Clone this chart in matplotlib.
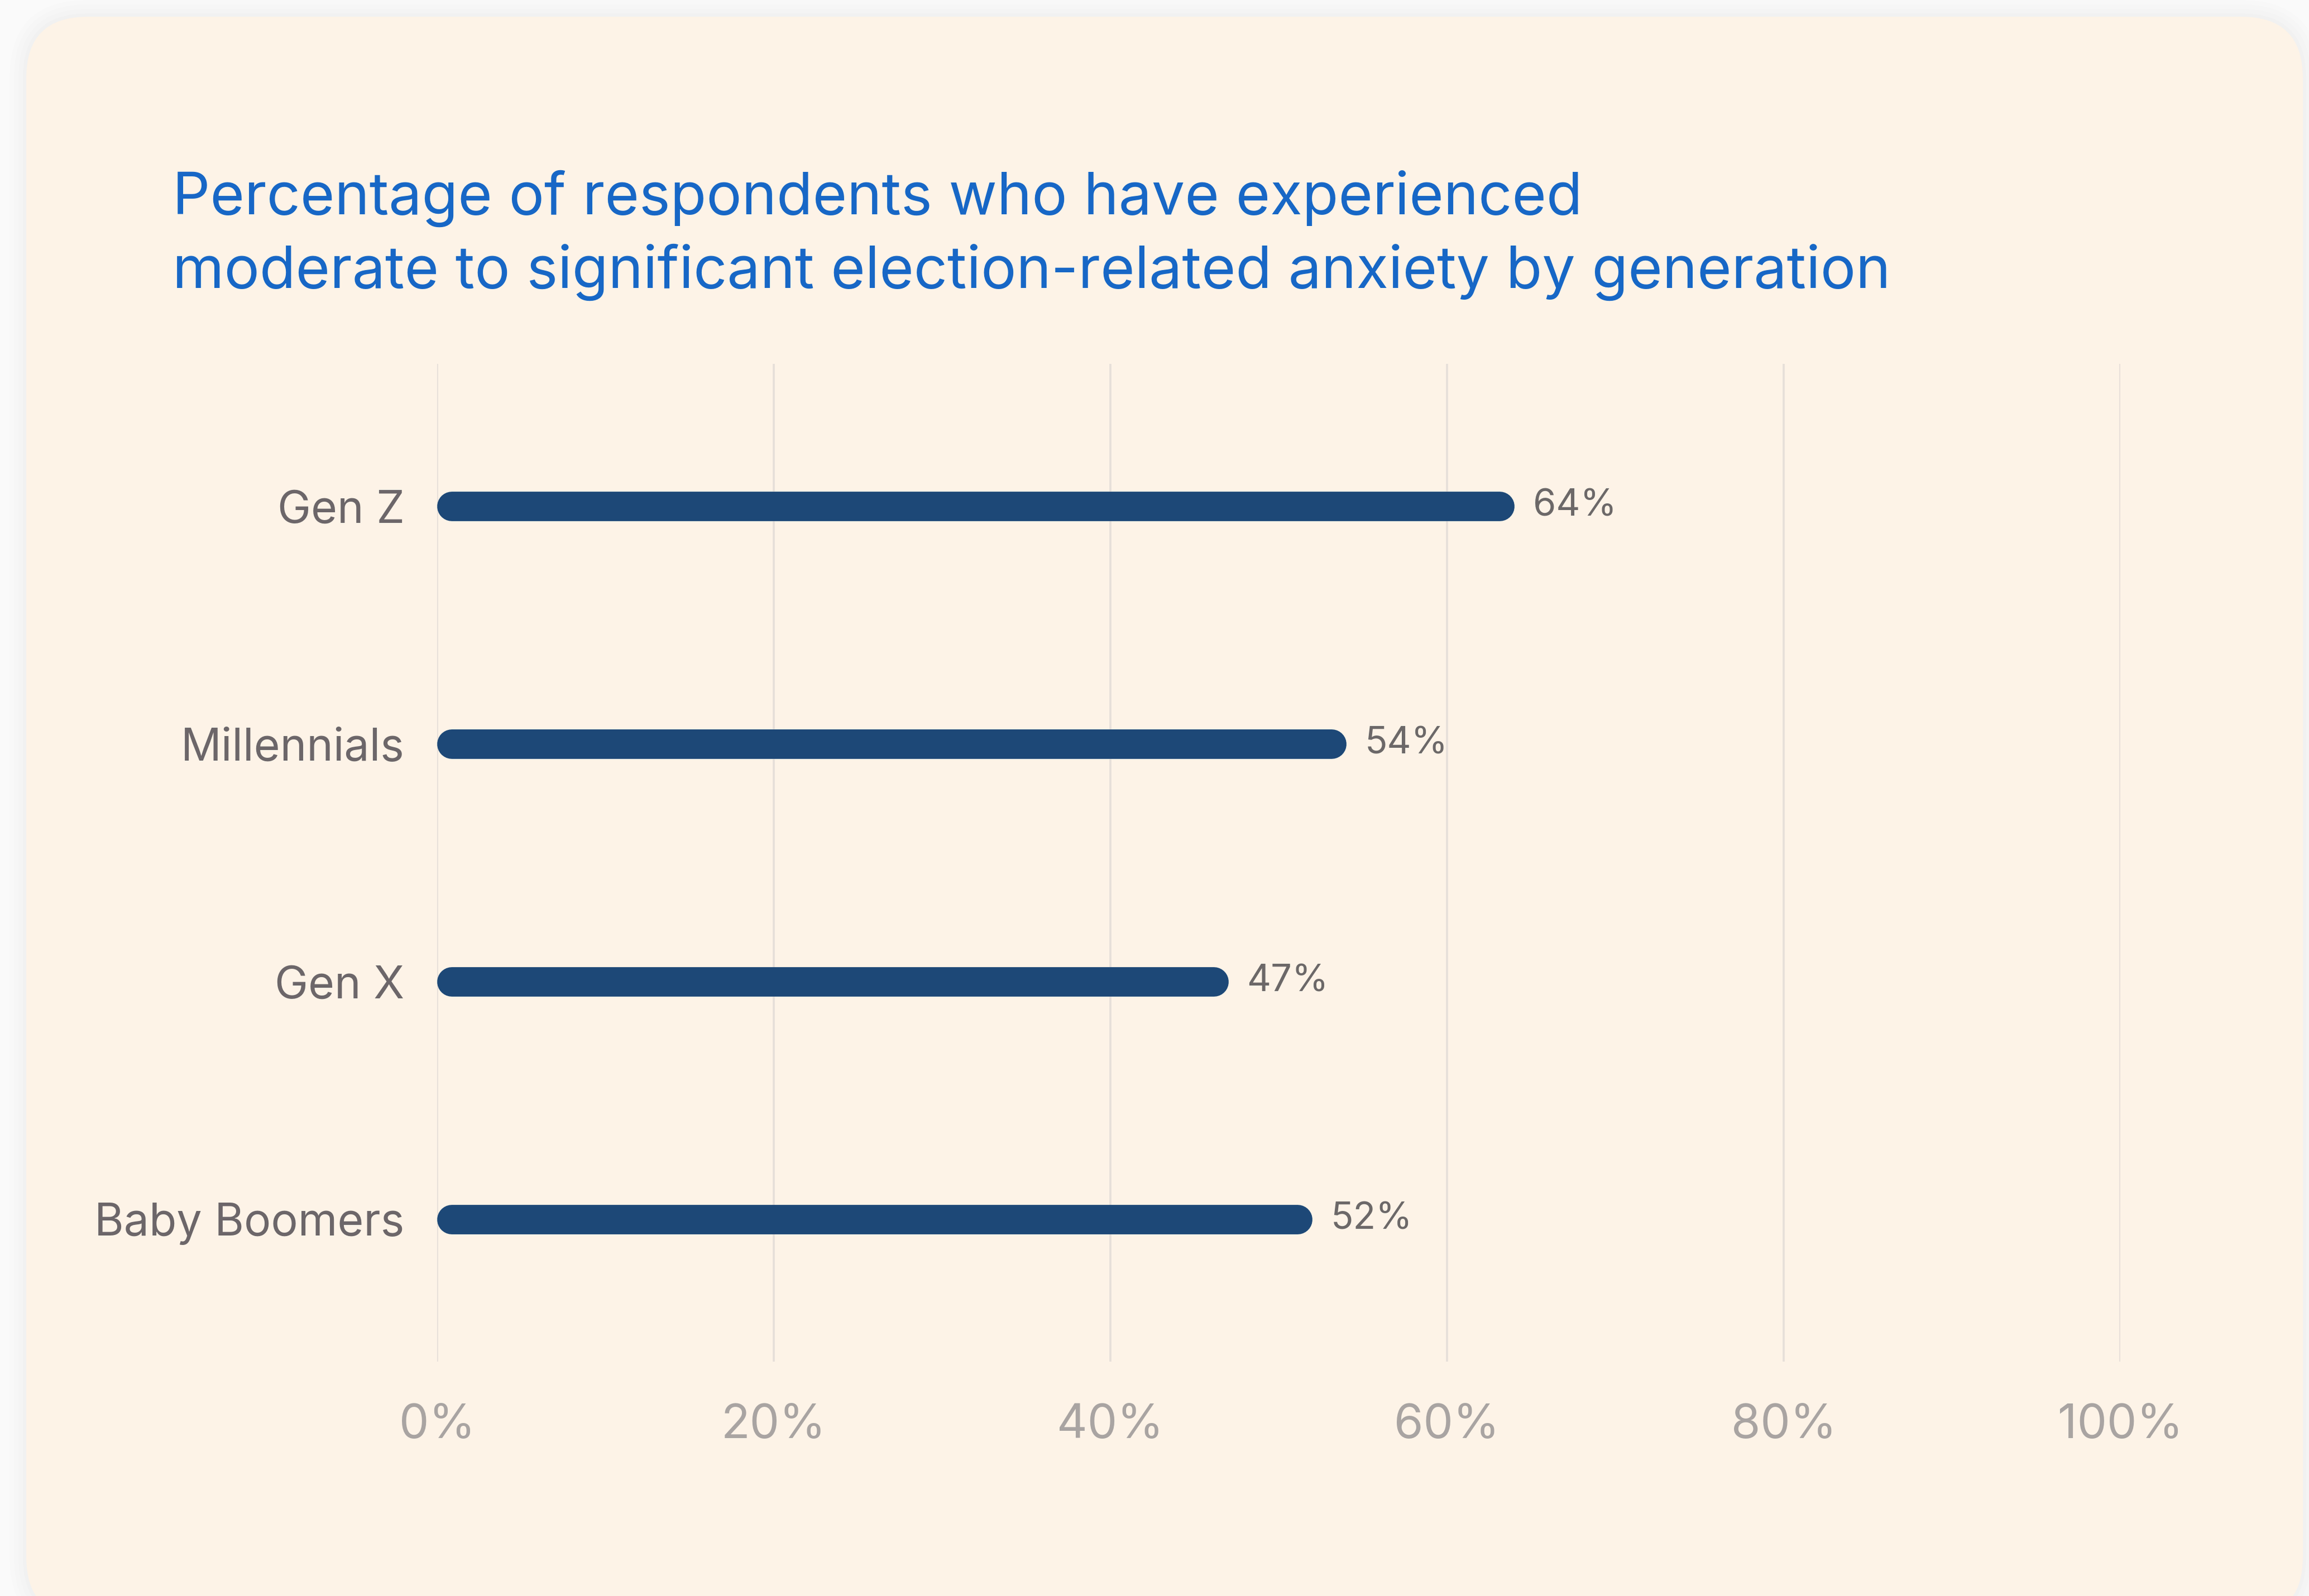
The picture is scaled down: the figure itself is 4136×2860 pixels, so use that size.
import matplotlib
matplotlib.use("Agg")
import matplotlib.pyplot as plt
from matplotlib.patches import FancyBboxPatch

# Survey results
generations = ["Gen Z", "Millennials", "Gen X", "Baby Boomers"]
anxiety_pct = [64, 54, 47, 52]
tick_values = [0, 20, 40, 60, 80, 100]
tick_labels = ["0%", "20%", "40%", "60%", "80%", "100%"]
title_text = ("Percentage of respondents who have experienced\n"
              "moderate to significant election-related anxiety by generation")

W, H, DPI = 4136, 2860, 200
FONT = ["Inter", "DejaVu Sans"]

CARD = "#FDF3E7"
BAR = "#1D4877"
TITLE = "#1767C6"
LABEL = "#6C6669"
VALUE = "#6C6868"
TICK = "#A9A4A2"
GRID = "#E6DFD9"

fig = plt.figure(figsize=(W / DPI, H / DPI), dpi=DPI)
fig.patch.set_facecolor("#FAFAFA")

# Background layer in pixel units for the rounded card and its soft shadow
bg = fig.add_axes([0, 0, 1, 1])
bg.set_xlim(0, W)
bg.set_ylim(H, 0)
bg.axis("off")
for i, a in enumerate([0.025, 0.02, 0.015, 0.01]):
    grow = 6 + i * 8
    bg.add_patch(FancyBboxPatch((47 - grow, 30 - grow), 4078 + 2 * grow, 2870 + 2 * grow,
                                boxstyle=f"round,pad=0,rounding_size={110 + grow}",
                                facecolor="#9a9a9a", edgecolor="none", alpha=a))
bg.add_patch(FancyBboxPatch((47, 30), 4078, 2870,
                            boxstyle="round,pad=0,rounding_size=110",
                            facecolor=CARD, edgecolor="none"))

# Two-line title; the baseline anchor applies to the last line
fig.text(309 / W, 1 - 516 / H, title_text, ha="left", va="baseline",
         fontsize=38, color=TITLE, family=FONT, linespacing=1.37)

# Chart area
left, right, top, bottom = 783, 3798, 652, 2440
ax = fig.add_axes([left / W, 1 - bottom / H, (right - left) / W, (bottom - top) / H])
ax.set_facecolor("none")
ax.set_xlim(0, 100)
ax.set_ylim(3.6, -0.6)
for s in ax.spines.values():
    s.set_visible(False)

for v in tick_values:
    ax.axvline(v, color=GRID, lw=1.3, zorder=1)

# Rounded bars: caps sit inside the 0..value extent
lw_pt = 19
cap = (lw_pt / 2 * DPI / 72) / ((right - left) / 100)
ys = list(range(len(generations)))
for y, v in zip(ys, anxiety_pct):
    ax.plot([cap, v - cap], [y, y], color=BAR, lw=lw_pt,
            solid_capstyle="round", zorder=3)
    ax.annotate(f"{v}%", (v, y), xytext=(12, 0), textcoords="offset points",
                ha="left", va="center", fontsize=24, color=VALUE, family=FONT)

ax.set_yticks(ys)
ax.set_yticklabels(generations, fontsize=29, color=LABEL, family=FONT)
ax.set_xticks(tick_values)
ax.set_xticklabels(tick_labels, fontsize=30.5, color=TICK, family=FONT)
ax.tick_params(axis="y", length=0, pad=21)
ax.tick_params(axis="x", length=0, pad=27)

fig.savefig("out.png", dpi=DPI, facecolor=fig.get_facecolor())
